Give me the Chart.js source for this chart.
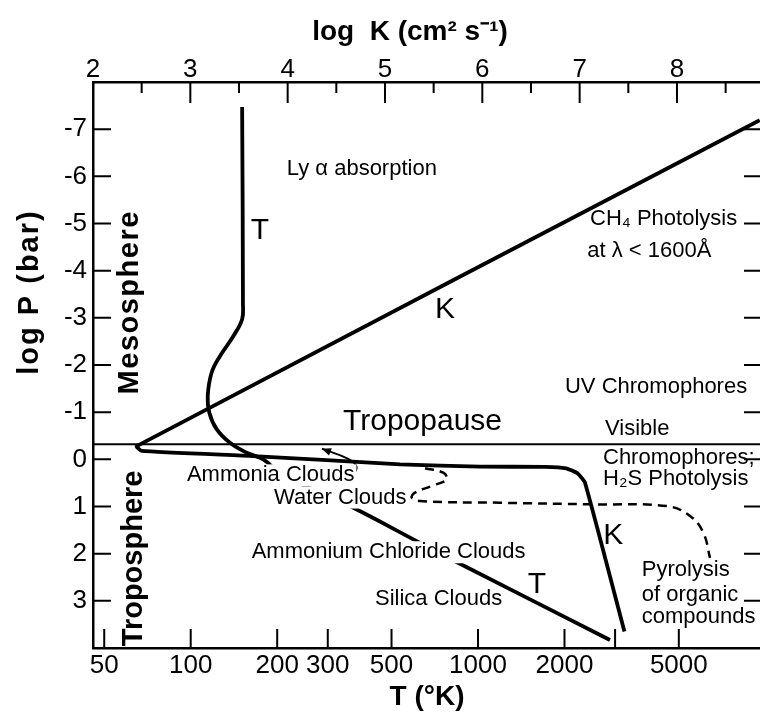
<!DOCTYPE html>
<html lang="en">
<head>
<meta charset="UTF-8" />
<title>T and K profiles</title>
<script src="https://cdn.jsdelivr.net/npm/chart.js@4"></script>
<style>
  body { margin: 0; background: #fff; }
  #wrap { width: 760px; height: 713px; }
</style>
</head>
<body>
<div id="wrap"><canvas id="chart"></canvas></div>
<script>
// temperature profile: T (K) against log P (bar)
const tempK = [151, 152, 151, 141, 126.5, 118.3, 114.6, 116.1, 123.1, 137, 156.6, 178.9, 205, 271, 358, 628, 832, 2880];
const tempLogP = [-7.47, -3.3, -2.97, -2.62, -2.19, -1.84, -1.34, -0.99, -0.64, -0.35, -0.14, 0, 0.3, 0.66, 0.99, 1.77, 2.16, 3.83];

// eddy diffusion coefficient: log K against log P
const eddyLogK = [8.85, 2.449, 2.5, 3.647, 5.154, 5.976, 6.644, 6.86, 6.98, 7.055, 7.46];
const eddyLogP = [-7.19, -0.28, -0.18, -0.07, 0.106, 0.155, 0.16, 0.19, 0.3, 0.495, 3.65];

// dashed path from the water clouds down to pyrolysis
const dashT = [654, 757, 778, 699, 603, 588, 628, 1193, 2519, 4539, 5471, 6086, 6420];
const dashLogP = [0.19, 0.284, 0.425, 0.552, 0.707, 0.813, 0.885, 0.92, 0.955, 0.991, 1.2, 1.556, 2.09];

// small arrow next to "Ammonia Clouds"
const arrowT = [367, 378, 352, 286];
const arrowLogP = [0.355, 0.155, -0.015, -0.227];

const tropopauseLogP = -0.32;

const pTicks = [-7, -6, -5, -4, -3, -2, -1, 0, 1, 2, 3];
const kTicks = [2, 3, 4, 5, 6, 7, 8];
const tTicks = [50, 100, 200, 300, 500, 1000, 2000, 3000, 5000];
const tTickLabels = ["50", "100", "200", "300", "500", "1000", "2000", "", "5000"];

const FAMILY = '"Liberation Sans", Arial, sans-serif';
const SMALL = "22px " + FAMILY;
const BIG = "30px " + FAMILY;
const BOLD = "bold 29px " + FAMILY;

// text placed in data coordinates (T on the bottom axis, log P)
const notes = [
  { text: "Ly α absorption", t: 216, p: -6.16, font: SMALL },
  { text: "CH₄ Photolysis", t: 2455, p: -5.1, font: SMALL },
  { text: "at λ < 1600Å", t: 2400, p: -4.42, font: SMALL },
  { text: "UV Chromophores", t: 2008, p: -1.53, font: SMALL },
  { text: "Visible", t: 2767, p: -0.64, font: SMALL },
  { text: "Chromophores;", t: 2723, p: -0.04, font: SMALL },
  { text: "H₂S Photolysis", t: 2723, p: 0.42, font: SMALL },
  { text: "Tropopause", t: 339, p: -0.79, font: BIG },
  { text: "Ammonia Clouds", t: 97, p: 0.34, font: SMALL, bg: true },
  { text: "Water Clouds", t: 195, p: 0.81, font: SMALL, bg: true },
  { text: "Ammonium Chloride Clouds", t: 163, p: 1.97, font: SMALL, bg: true },
  { text: "Silica Clouds", t: 438, p: 2.97, font: SMALL },
  { text: "Pyrolysis", t: 3714, p: 2.34, font: SMALL },
  { text: "of organic", t: 3714, p: 2.87, font: SMALL },
  { text: "compounds", t: 3714, p: 3.35, font: SMALL },
  { text: "T", t: 174, p: -4.84, font: BIG, align: "center" },
  { text: "K", t: 768, p: -3.18, font: BIG, align: "center" },
  { text: "T", t: 1605, p: 2.65, font: BIG, align: "center" },
  { text: "K", t: 2958, p: 1.63, font: BIG, align: "center" },
  { text: "Mesosphere", t: 61.5, p: -3.33, font: BOLD, align: "center", rotate: true, spacing: "1.5px" },
  { text: "Troposphere", t: 63.5, p: 2.1, font: BOLD, align: "center", rotate: true }
];

const pts = (xs, ys) => xs.map((v, i) => ({ x: v, y: ys[i] }));

const notesPlugin = {
  id: "notes",
  afterDatasetsDraw(chart) {
    const { ctx, scales: { x, y } } = chart;
    ctx.save();
    ctx.textBaseline = "middle";
    notes.forEach((n) => {
      const px = x.getPixelForValue(n.t);
      const py = y.getPixelForValue(n.p);
      ctx.save();
      ctx.font = n.font;
      ctx.letterSpacing = n.spacing || "0px";
      ctx.textAlign = n.align || "left";
      ctx.translate(px, py);
      if (n.rotate) ctx.rotate(-Math.PI / 2);
      if (n.bg) {
        const w = ctx.measureText(n.text).width;
        ctx.fillStyle = "#fff";
        ctx.fillRect(-2, -11, w + 4, 22);
      }
      ctx.fillStyle = "#000";
      ctx.fillText(n.text, 0, 0);
      ctx.restore();
    });

    // axis titles
    ctx.fillStyle = "#000";
    ctx.textAlign = "center";
    ctx.font = "bold 28px " + FAMILY;
    ctx.fillText("log  K (cm² s⁻¹)", 410, 32);
    ctx.fillText("T (°K)", 427, 697);
    ctx.save();
    ctx.translate(30, 292);
    ctx.rotate(-Math.PI / 2);
    ctx.font = "bold 29px " + FAMILY;
    ctx.letterSpacing = "2px";
    ctx.fillText("log P (bar)", 0, 0);
    ctx.restore();
    ctx.restore();
  }
};

const ticksPlugin = {
  id: "inwardTicks",
  afterDatasetsDraw(chart) {
    const { ctx, chartArea: a, scales } = chart;
    ctx.save();
    ctx.strokeStyle = "#000";
    ctx.lineWidth = 2;
    ctx.beginPath();
    scales.y.ticks.forEach((t) => {
      const py = scales.y.getPixelForValue(t.value);
      ctx.moveTo(a.left, py); ctx.lineTo(a.left + 18, py);
      ctx.moveTo(a.right - 16, py); ctx.lineTo(a.right, py);
    });
    scales.x.ticks.forEach((t) => {
      const px = scales.x.getPixelForValue(t.value);
      ctx.moveTo(px, a.bottom); ctx.lineTo(px, a.bottom - 19);
    });
    scales.x2.ticks.forEach((t) => {
      const px = scales.x2.getPixelForValue(t.value);
      ctx.moveTo(px, a.top); ctx.lineTo(px, a.top + 21);
      const half = scales.x2.getPixelForValue(t.value + 0.5);
      if (half < a.right) { ctx.moveTo(half, a.top); ctx.lineTo(half, a.top + 11); }
    });
    ctx.stroke();

    // arrow head at the end of the small arrow
    const meta = chart.getDatasetMeta(4).data;
    const tip = meta[meta.length - 1], prev = meta[meta.length - 2];
    const ang = Math.atan2(tip.y - prev.y, tip.x - prev.x);
    ctx.fillStyle = "#000";
    ctx.beginPath();
    ctx.moveTo(tip.x, tip.y);
    ctx.lineTo(tip.x - 10 * Math.cos(ang - 0.4), tip.y - 10 * Math.sin(ang - 0.4));
    ctx.lineTo(tip.x - 10 * Math.cos(ang + 0.4), tip.y - 10 * Math.sin(ang + 0.4));
    ctx.closePath();
    ctx.fill();
    ctx.restore();
  }
};

const tickFont = { family: FAMILY, size: 26, lineHeight: 0.9 };
const axisBorder = { display: true, width: 2.5, color: "#000" };

new Chart(document.getElementById("chart"), {
  type: "scatter",
  data: {
    datasets: [
      { data: pts(tempK, tempLogP), xAxisID: "x", borderWidth: 3.8, tension: 0.4 },
      { data: pts(eddyLogK, eddyLogP), xAxisID: "x2", borderWidth: 3.8, tension: 0.15 },
      { data: pts([2, 8.853], [tropopauseLogP, tropopauseLogP]), xAxisID: "x2", borderWidth: 2 },
      { data: pts(dashT, dashLogP), xAxisID: "x", borderWidth: 2.5, borderDash: [9, 6], tension: 0.4 },
      { data: pts(arrowT, arrowLogP), xAxisID: "x", borderWidth: 1.8, tension: 0.4 }
    ].map((d) => Object.assign({ showLine: true, pointRadius: 0, borderColor: "#000", fill: false }, d))
  },
  options: {
    responsive: true,
    maintainAspectRatio: false,
    animation: false,
    layout: { padding: 0 },
    plugins: { legend: { display: false }, tooltip: { enabled: false } },
    scales: {
      x: {
        type: "logarithmic",
        position: "bottom",
        min: 45.7,
        max: 9584,
        afterBuildTicks: (s) => { s.ticks = tTicks.map((v) => ({ value: v })); },
        afterFit: (s) => { s.height = 65; },
        ticks: { autoSkip: false, maxRotation: 0, padding: 6, color: "#000", font: tickFont,
          callback: (v, i) => tTickLabels[i] },
        grid: { display: false, drawTicks: false },
        border: axisBorder
      },
      x2: {
        type: "linear",
        position: "top",
        min: 2,
        max: 8.853,
        afterBuildTicks: (s) => { s.ticks = kTicks.map((v) => ({ value: v })); },
        afterFit: (s) => { s.height = 82; },
        ticks: { autoSkip: false, maxRotation: 0, padding: 0, color: "#000", font: tickFont },
        grid: { display: false, drawTicks: false },
        border: axisBorder
      },
      y: {
        type: "linear",
        position: "left",
        min: -8,
        max: 4,
        reverse: true,
        afterBuildTicks: (s) => { s.ticks = pTicks.map((v) => ({ value: v })); },
        afterFit: (s) => { s.width = 93; },
        ticks: { autoSkip: false, padding: 6, color: "#000", font: tickFont },
        grid: { display: false, drawTicks: false },
        border: axisBorder
      }
    }
  },
  plugins: [ticksPlugin, notesPlugin]
});
</script>
</body>
</html>
